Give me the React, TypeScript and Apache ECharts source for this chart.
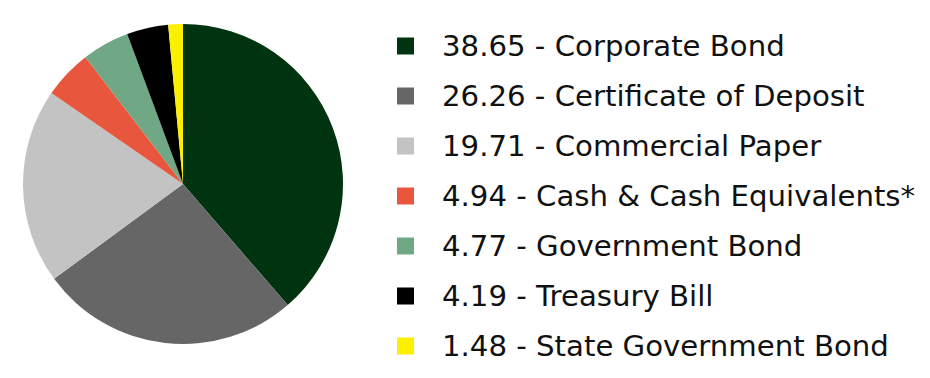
import React, { useEffect, useRef } from "react";
import * as echarts from "echarts";

const categories = [
  "Corporate Bond",
  "Certificate of Deposit",
  "Commercial Paper",
  "Cash & Cash Equivalents*",
  "Government Bond",
  "Treasury Bill",
  "State Government Bond",
];
const values = [38.65, 26.26, 19.71, 4.94, 4.77, 4.19, 1.48];
const colors = ["#00330F", "#666666", "#C3C3C3", "#E8573D", "#70A886", "#000000", "#FAF000"];

export default function App() {
  const ref = useRef<HTMLDivElement>(null);
  useEffect(() => {
    if (!ref.current) return;
    const chart = echarts.init(ref.current, undefined, { renderer: "svg" });
    const valueMap: Record<string, number> = {};
    categories.forEach((c, i) => (valueMap[c] = values[i]));
    chart.setOption({
      animation: false,
      color: colors,
      legend: {
        orient: "vertical",
        left: 384,
        top: 18,
        itemWidth: 17,
        itemHeight: 17,
        itemGap: 20,
        icon: "rect",
        selectedMode: false,
        data: categories,
        formatter: (name: string) => `${valueMap[name].toFixed(2)} - ${name}`,
        textStyle: {
          fontFamily: "DejaVu Sans",
          fontSize: 29.2,
          lineHeight: 30,
          color: "#111111",
          padding: [0, 0, 0, 23],
        },
      },
      series: [
        {
          type: "pie",
          center: [175, 176],
          radius: 160,
          startAngle: 90,
          clockwise: true,
          label: { show: false },
          labelLine: { show: false },
          emphasis: { disabled: true },
          itemStyle: { borderWidth: 0 },
          data: categories.map((c, i) => ({ name: c, value: values[i] })),
        },
      ],
    });
    return () => chart.dispose();
  }, []);
  return <div ref={ref} style={{ width: 914, height: 362 }} />;
}
